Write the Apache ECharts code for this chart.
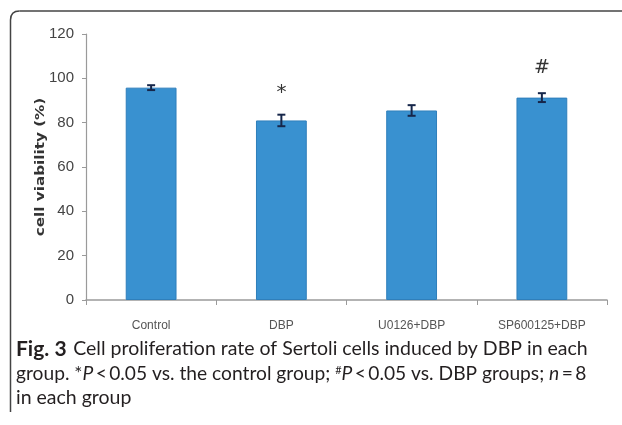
<!DOCTYPE html>
<html><head><meta charset="utf-8">
<script src="https://cdn.jsdelivr.net/npm/echarts@6/dist/echarts.min.js"></script>
<style>html,body{margin:0;padding:0;background:#fff}#c{width:622px;height:425px}</style>
</head><body><div id="c"></div>
<script>
var categories = ['Control', 'DBP', 'U0126+DBP', 'SP600125+DBP'];
var viability = [95.8, 81, 85.5, 91.3];
var errors = [1.1, 2.6, 2.4, 2.0];
var marks = ['', '*', '', '#'];
var yTicks = [0, 20, 40, 60, 80, 100, 120];
var yName = 'cell viability (%)';

var chart = echarts.init(document.getElementById('c'));
var errData = categories.map(function (c, i) { return [i, viability[i], errors[i]]; });
var capFont = 'Lato';
var capSize = 19.5;
var cap2Size = 19.2;
var capColor = '#231f20';
var ts = '\u2009';

chart.setOption({
  animation: false,
  grid: { left: 86, right: 15, top: 34, bottom: 125, containLabel: false },
  xAxis: {
    type: 'category', data: categories,
    axisLine: { lineStyle: { color: '#9a9a9a', width: 1.5 } },
    axisTick: { show: true, length: 5, lineStyle: { color: '#9a9a9a' } },
    axisLabel: { color: '#555', fontFamily: 'Liberation Sans', fontSize: 12, margin: 20 }
  },
  yAxis: {
    type: 'value', min: yTicks[0], max: yTicks[yTicks.length - 1], interval: 20,
    splitLine: { show: false },
    axisLine: { show: true, lineStyle: { color: '#9a9a9a', width: 1.2 } },
    axisTick: { show: true, length: 4, lineStyle: { color: '#9a9a9a' } },
    axisLabel: { color: '#444', fontFamily: 'Liberation Sans', fontSize: 15, margin: 12 }
  },
  series: [
    {
      type: 'bar', data: viability, barWidth: '39%',
      itemStyle: { color: '#3991d0', borderColor: '#2f7fbb', borderWidth: 1 }
    },
    {
      type: 'custom', data: errData, z: 10,
      renderItem: function (params, api) {
        var x = api.value(0), v = api.value(1), e = api.value(2);
        var top = api.coord([x, v + e]), bot = api.coord([x, v - e]);
        var cw = 8;
        var st = { stroke: '#16264a', lineWidth: 2 };
        var ch = [
          { type: 'line', shape: { x1: top[0], y1: top[1], x2: bot[0], y2: bot[1] }, style: st },
          { type: 'line', shape: { x1: top[0] - cw / 2, y1: top[1], x2: top[0] + cw / 2, y2: top[1] }, style: st },
          { type: 'line', shape: { x1: bot[0] - cw / 2, y1: bot[1], x2: bot[0] + cw / 2, y2: bot[1] }, style: st }
        ];
        var m = marks[params.dataIndex];
        if (m) {
          ch.push({ type: 'text', style: { text: m, x: top[0], y: top[1] - (m === '*' ? 22 : 25), align: 'center', verticalAlign: 'middle',
            font: (m === '*' ? '20px' : '19px') + ' "DejaVu Sans"', fill: '#333' } });
        }
        return { type: 'group', children: ch };
      }
    }
  ],
  graphic: [
    { type: 'polyline', shape: { points: [[10.5, 412], [10.5, 20]] }, style: { stroke: '#444', lineWidth: 1.5, fill: null } },
    { type: 'bezierCurve', shape: { x1: 10.5, y1: 20, x2: 19.5, y2: 11, cpx1: 10.5, cpy1: 11 }, style: { stroke: '#444', lineWidth: 1.5, fill: null } },
    { type: 'polyline', shape: { points: [[19.5, 11], [622, 11]] }, style: { stroke: '#444', lineWidth: 1.5, fill: null } },
    { type: 'text', x: 41, y: 167, rotation: Math.PI / 2, scaleX: 1.17, style: {
      text: yName, x: 0, y: 0, align: 'center', verticalAlign: 'middle',
      font: 'bold 13px "DejaVu Sans"', fill: '#333' } },
    { type: 'text', x: 16, y: 349, style: {
      text: '{b|Fig. 3}  {n|Cell proliferation rate of Sertoli cells induced by DBP in each}',
      verticalAlign: 'middle',
      rich: { b: { font: 'bold 21px "' + capFont + '"', fill: capColor }, n: { font: capSize + 'px "' + capFont + '"', fill: capColor } } } },
    { type: 'text', x: 16, y: 374, style: {
      text: '{n|group. *}{i|P}{n|' + ts + '<' + ts + '0.05 vs. the control group; }{s|#}{i|P}{n|' + ts + '<' + ts + '0.05 vs. DBP groups; }{i|n}{n|' + ts + '=' + ts + '8}',
      verticalAlign: 'middle',
      rich: { n: { font: cap2Size + 'px "' + capFont + '"', fill: capColor }, i: { font: 'italic ' + cap2Size + 'px "' + capFont + '"', fill: capColor },
              s: { font: '11px "' + capFont + '"', fill: capColor, verticalAlign: 'top', padding: [0, 0, 8, 0] } } } },
    { type: 'text', x: 16, y: 398, style: { text: 'in each group', verticalAlign: 'middle', font: capSize + 'px "' + capFont + '"', fill: capColor } }
  ]
});
</script></body></html>
